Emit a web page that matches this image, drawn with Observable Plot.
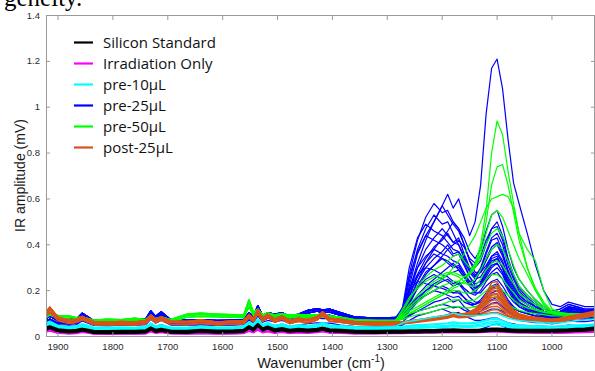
<!DOCTYPE html>
<html><head><meta charset="utf-8">
<script src="https://cdn.jsdelivr.net/npm/d3@7"></script>
<script src="https://cdn.jsdelivr.net/npm/@observablehq/plot@0.6"></script>
<style>
html,body{margin:0;padding:0;background:#fff;}
#chart{position:relative;width:595px;height:371px;overflow:hidden;}
</style></head><body><div id="chart"></div>
<script>
// ---------- data ----------
const wavenumbers = [1925,1915,1900,1880,1866,1856,1835,1810,1785,1760,1740,1731,1722,1712,1695,1665,1640,1610,1580,1562,1552,1544,1536,1527,1518,1505,1492,1478,1462,1445,1428,1418,1405,1385,1360,1320,1285,
  1272,1260,1245,1230,1215,1200,1190,1180,1170,1160,1150,1140,1130,1120,1110,1100,1090,1080,1070,1060,1045,1030,1015,1000,985,970,955,940,920];
const xTicks = [1900,1800,1700,1600,1500,1400,1300,1200,1100,1000];
const yTicks = [0,0.2,0.4,0.6,0.8,1,1.2,1.4];
const seriesNames = ["Silicon Standard","Irradiation Only","pre-10µL","pre-25µL","pre-50µL","post-25µL"];
const seriesColors = ["#000000","#ff00ff","#00ffff","#0000ff","#00ff00","#d95319"];

// pre-25µL (blue): low-wavenumber segments (1925–1285) and band segments (1272–920)
const blueLow = [
  [.080,.095,.075,.072,.075,.098,.068,.066,.070,.068,.075,.110,.085,.105,.072,.070,.072,.068,.070,.072,.100,.085,.130,.090,.100,.095,.100,.085,.095,.110,.118,.112,.115,.100,.082,.078,.080],
  [.072,.088,.068,.066,.068,.090,.062,.060,.064,.063,.068,.100,.078,.096,.066,.064,.066,.062,.064,.066,.092,.078,.120,.082,.092,.086,.092,.078,.088,.102,.110,.104,.106,.092,.076,.072,.075],
  [.062,.076,.058,.056,.058,.078,.054,.052,.055,.054,.058,.088,.066,.082,.056,.055,.057,.054,.056,.058,.080,.068,.105,.072,.080,.075,.080,.068,.076,.088,.095,.090,.092,.080,.068,.065,.068],
  [.085,.100,.078,.075,.078,.102,.070,.068,.072,.070,.078,.112,.088,.108,.074,.072,.074,.070,.072,.074,.104,.088,.135,.092,.104,.098,.104,.088,.098,.114,.122,.116,.120,.104,.086,.080,.083],
  [.058,.070,.052,.050,.052,.068,.048,.046,.049,.048,.052,.075,.058,.070,.050,.049,.051,.048,.050,.052,.072,.060,.090,.062,.070,.064,.070,.058,.066,.075,.080,.078,.078,.068,.058,.056,.060],
  [.045,.055,.040,.038,.040,.052,.036,.034,.036,.035,.038,.058,.044,.052,.037,.036,.038,.036,.037,.039,.056,.046,.070,.048,.054,.048,.054,.044,.050,.056,.060,.058,.058,.050,.044,.042,.045],
  [.020,.028,.015,.012,.014,.022,.011,.010,.011,.011,.012,.024,.015,.020,.012,.011,.013,.011,.012,.014,.026,.018,.034,.018,.024,.016,.022,.014,.018,.016,.020,.024,.016,.015,.012,.012,.018]
];
const bluePeak = [
  [.10,.22,.36,.44,.50,.57,.62,.56,.60,.52,.44,.50,.66,.97,1.17,1.21,1.08,.86,.67,.58,.45,.31,.20,.14,.13,.15,.14,.13,.13],
  [.09,.20,.32,.42,.50,.57,.53,.49,.46,.40,.33,.30,.33,.40,.47,.50,.44,.34,.27,.22,.18,.15,.12,.11,.12,.14,.13,.12,.12],
  [.11,.24,.38,.47,.53,.49,.50,.45,.40,.34,.29,.26,.30,.37,.43,.45,.40,.31,.25,.20,.16,.14,.11,.10,.11,.13,.12,.11,.115],
  [.08,.15,.24,.32,.38,.43,.46,.50,.47,.43,.37,.34,.38,.46,.53,.55,.48,.38,.30,.25,.20,.16,.13,.11,.12,.14,.13,.12,.12],
  [.10,.19,.30,.38,.43,.47,.44,.41,.43,.36,.30,.27,.28,.33,.38,.40,.35,.28,.22,.18,.15,.13,.11,.10,.11,.13,.12,.11,.11],
  [.12,.26,.37,.44,.42,.40,.38,.35,.36,.31,.26,.23,.24,.28,.32,.34,.30,.24,.19,.16,.14,.12,.10,.095,.10,.12,.115,.105,.11],
  [.09,.16,.24,.30,.34,.37,.40,.36,.37,.32,.26,.22,.22,.25,.28,.30,.27,.21,.17,.14,.12,.11,.095,.09,.095,.11,.105,.10,.10],
  [.10,.18,.26,.32,.36,.34,.33,.31,.30,.27,.24,.24,.29,.36,.42,.43,.37,.28,.22,.18,.15,.13,.11,.10,.105,.125,.12,.11,.115],
  [.085,.13,.18,.22,.25,.28,.30,.32,.29,.26,.22,.19,.19,.22,.24,.25,.22,.18,.15,.13,.11,.10,.09,.085,.09,.105,.10,.095,.10],
  [.09,.15,.21,.25,.27,.25,.24,.22,.23,.20,.17,.15,.15,.17,.19,.20,.18,.15,.12,.11,.10,.09,.085,.08,.085,.10,.095,.09,.095],
  [.08,.11,.15,.18,.20,.22,.21,.19,.20,.17,.14,.13,.13,.15,.16,.17,.15,.12,.10,.09,.085,.08,.075,.07,.075,.09,.085,.08,.085],
  [.065,.09,.11,.13,.15,.16,.17,.15,.16,.13,.11,.10,.10,.11,.12,.12,.11,.09,.08,.07,.065,.06,.06,.055,.06,.07,.065,.065,.07],
  [.05,.07,.09,.10,.11,.12,.11,.10,.105,.09,.08,.07,.07,.075,.08,.08,.07,.06,.055,.05,.048,.046,.045,.042,.045,.05,.048,.048,.05],
  [.022,.024,.026,.028,.03,.032,.032,.03,.03,.028,.027,.028,.032,.04,.05,.055,.045,.035,.03,.026,.024,.022,.02,.018,.018,.02,.02,.02,.022],
  [.12,.27,.42,.52,.58,.54,.55,.50,.47,.40,.33,.28,.28,.31,.35,.36,.32,.25,.20,.17,.14,.12,.105,.10,.105,.125,.12,.11,.115],
  [.085,.14,.21,.27,.31,.35,.38,.40,.42,.39,.34,.32,.35,.42,.47,.48,.42,.33,.26,.21,.17,.14,.12,.105,.11,.13,.125,.115,.12],
  [.11,.20,.27,.30,.29,.27,.26,.24,.23,.21,.19,.18,.20,.24,.27,.28,.25,.20,.16,.13,.115,.10,.09,.085,.09,.11,.105,.10,.10],
  [.09,.13,.17,.20,.22,.24,.25,.23,.24,.21,.19,.19,.23,.29,.34,.35,.30,.23,.18,.15,.12,.11,.095,.09,.095,.11,.105,.10,.105],
  [.085,.12,.16,.18,.20,.19,.18,.17,.175,.15,.14,.14,.16,.19,.22,.23,.20,.16,.13,.11,.10,.09,.085,.08,.085,.10,.095,.09,.095],
  [.075,.095,.11,.12,.13,.14,.135,.125,.13,.115,.105,.10,.11,.13,.145,.15,.13,.11,.095,.085,.08,.075,.07,.068,.07,.08,.078,.075,.08],
  [.13,.30,.43,.49,.46,.44,.41,.38,.37,.33,.28,.25,.26,.30,.35,.37,.33,.26,.21,.17,.14,.12,.10,.095,.10,.12,.115,.105,.11],
  [.09,.17,.27,.34,.39,.42,.45,.41,.40,.35,.29,.26,.28,.34,.39,.41,.36,.29,.23,.19,.16,.13,.11,.10,.105,.125,.12,.11,.115],
  [.11,.21,.30,.35,.38,.36,.35,.33,.32,.28,.24,.21,.22,.26,.30,.32,.28,.22,.18,.15,.13,.11,.10,.09,.095,.115,.11,.10,.105],
  [.09,.15,.22,.28,.31,.34,.32,.30,.31,.27,.23,.21,.23,.28,.33,.34,.30,.23,.18,.15,.12,.11,.095,.09,.095,.11,.105,.10,.10],
  [.12,.20,.24,.23,.22,.21,.20,.19,.19,.17,.15,.14,.15,.18,.21,.22,.19,.15,.13,.11,.10,.09,.085,.08,.085,.10,.095,.09,.095],
  [.08,.12,.16,.20,.23,.25,.27,.28,.29,.26,.22,.20,.22,.27,.31,.32,.28,.22,.17,.14,.12,.105,.095,.09,.095,.11,.105,.10,.10]
];
const blueLowOf = [0,1,2,3,0,1,2,3,0,1,2,4,5,6,3,0,1,2,3,0,1,2,0,3,1,2];

// pre-50µL (green)
const greenLow = [
  [.085,.100,.088,.085,.078,.082,.068,.072,.070,.076,.070,.090,.074,.082,.070,.092,.096,.092,.090,.088,.150,.100,.115,.090,.098,.090,.095,.088,.092,.088,.090,.092,.085,.080,.070,.066,.068],
  [.078,.094,.080,.076,.070,.076,.062,.066,.064,.070,.064,.084,.068,.076,.064,.084,.088,.085,.083,.082,.130,.092,.108,.083,.090,.083,.088,.081,.085,.081,.083,.086,.079,.074,.065,.062,.064],
  [.090,.106,.092,.090,.082,.086,.072,.076,.074,.080,.074,.094,.078,.086,.074,.098,.102,.098,.095,.093,.160,.106,.120,.095,.103,.095,.100,.093,.097,.093,.095,.097,.090,.085,.074,.070,.072]
];
const greenPeak = [
  [.09,.11,.13,.15,.17,.19,.20,.22,.24,.26,.28,.32,.40,.55,.80,.94,.88,.72,.58,.45,.30,.20,.14,.11,.10,.10,.10,.10,.10],
  [.08,.10,.12,.14,.16,.18,.19,.21,.22,.24,.27,.31,.38,.50,.66,.74,.75,.66,.54,.42,.30,.21,.15,.11,.10,.10,.10,.095,.10],
  [.10,.13,.16,.19,.22,.25,.27,.30,.33,.36,.40,.44,.50,.56,.60,.61,.62,.61,.56,.45,.38,.33,.20,.12,.105,.10,.10,.10,.10],
  [.10,.14,.18,.21,.24,.26,.27,.28,.27,.26,.27,.30,.36,.45,.53,.55,.52,.46,.40,.34,.27,.20,.14,.11,.10,.10,.10,.10,.10],
  [.11,.16,.22,.26,.29,.31,.33,.35,.36,.33,.30,.30,.34,.40,.45,.47,.44,.38,.31,.25,.20,.16,.13,.11,.10,.10,.10,.095,.10],
  [.09,.12,.15,.18,.20,.22,.23,.24,.24,.23,.23,.25,.29,.34,.38,.40,.38,.33,.27,.22,.18,.15,.12,.10,.10,.10,.095,.095,.095],
  [.12,.17,.21,.24,.26,.27,.28,.27,.26,.24,.22,.22,.25,.29,.32,.33,.31,.27,.23,.19,.16,.14,.12,.105,.10,.10,.10,.10,.10],
  [.08,.10,.12,.14,.16,.18,.19,.20,.20,.19,.19,.20,.22,.25,.27,.27,.25,.22,.19,.16,.14,.12,.11,.10,.095,.095,.095,.09,.095],
  [.085,.10,.11,.12,.13,.14,.15,.16,.16,.155,.155,.16,.18,.20,.22,.22,.20,.18,.16,.14,.125,.115,.105,.10,.095,.095,.09,.09,.09],
  [.075,.085,.095,.10,.11,.12,.125,.13,.13,.125,.125,.13,.14,.16,.17,.17,.16,.14,.125,.115,.105,.10,.095,.09,.09,.09,.09,.085,.09]
];
const greenLowOf = [0,1,2,0,1,2,0,1,2,0];

// post-25µL (orange)
const orangeLow = [
  [.090,.118,.078,.066,.070,.082,.060,.056,.060,.058,.064,.088,.068,.080,.062,.060,.066,.058,.062,.064,.090,.072,.110,.074,.092,.070,.084,.064,.074,.068,.080,.100,.074,.070,.060,.056,.058],
  [.098,.128,.084,.072,.076,.088,.066,.062,.066,.064,.070,.094,.074,.086,.068,.066,.072,.064,.068,.070,.096,.078,.118,.080,.098,.076,.090,.070,.080,.074,.086,.108,.080,.076,.066,.062,.064],
  [.080,.106,.070,.058,.062,.074,.052,.049,.052,.050,.056,.080,.060,.072,.054,.052,.058,.051,.054,.056,.082,.064,.100,.066,.084,.062,.076,.056,.066,.060,.072,.092,.066,.062,.053,.050,.052],
  [.094,.124,.082,.070,.073,.086,.063,.059,.063,.061,.067,.092,.071,.083,.065,.063,.069,.061,.065,.067,.093,.075,.114,.077,.095,.073,.087,.067,.077,.071,.083,.104,.077,.073,.063,.059,.061]
];
const orangePeak = [
  [.064,.068,.072,.078,.084,.090,.095,.105,.098,.100,.108,.120,.145,.185,.235,.240,.190,.145,.115,.100,.090,.084,.080,.076,.080,.088,.095,.102,.112],
  [.062,.066,.070,.076,.082,.088,.092,.100,.095,.097,.104,.115,.138,.172,.215,.222,.178,.138,.110,.096,.087,.081,.077,.074,.078,.085,.092,.098,.108],
  [.060,.064,.068,.074,.080,.085,.090,.098,.092,.094,.100,.110,.130,.160,.198,.202,.165,.130,.105,.092,.084,.078,.074,.071,.075,.082,.088,.095,.104],
  [.064,.068,.073,.079,.085,.090,.094,.104,.096,.098,.103,.112,.128,.155,.185,.188,.156,.126,.104,.094,.086,.080,.076,.073,.077,.084,.091,.098,.108],
  [.058,.062,.066,.071,.077,.082,.086,.094,.088,.090,.095,.104,.120,.144,.170,.174,.146,.118,.098,.087,.080,.074,.070,.068,.071,.078,.084,.090,.100],
  [.061,.065,.069,.075,.081,.086,.090,.100,.093,.094,.098,.106,.119,.138,.157,.160,.137,.114,.096,.088,.082,.077,.073,.070,.074,.081,.087,.094,.104],
  [.056,.060,.064,.069,.074,.079,.083,.090,.085,.086,.090,.097,.108,.125,.142,.145,.125,.105,.090,.082,.076,.071,.068,.066,.069,.075,.081,.087,.096],
  [.059,.063,.067,.072,.078,.083,.087,.097,.090,.091,.094,.100,.110,.120,.130,.132,.116,.100,.088,.081,.076,.072,.069,.067,.070,.077,.083,.090,.099],
  [.055,.058,.062,.066,.071,.076,.080,.087,.082,.083,.086,.091,.098,.107,.115,.117,.104,.092,.082,.076,.071,.067,.064,.062,.065,.071,.077,.083,.092],
  [.057,.061,.065,.070,.075,.080,.084,.093,.086,.086,.088,.092,.096,.100,.104,.105,.096,.087,.080,.075,.071,.068,.065,.064,.067,.073,.079,.085,.094],
  [.063,.067,.071,.077,.083,.089,.093,.102,.096,.098,.106,.118,.140,.175,.205,.212,.175,.136,.108,.095,.086,.080,.076,.073,.077,.084,.090,.097,.106],
  [.059,.063,.067,.073,.079,.084,.088,.096,.090,.092,.098,.108,.126,.152,.180,.183,.152,.123,.101,.090,.082,.076,.072,.069,.073,.080,.086,.093,.102]
];
const orangeLowOf = [1,0,3,1,2,0,3,2,0,2,1,3];

// pre-10µL (cyan)
const cyanLow = [
  [.050,.060,.042,.038,.040,.050,.036,.034,.036,.035,.038,.052,.040,.046,.036,.035,.040,.036,.037,.040,.058,.045,.070,.046,.055,.042,.050,.040,.045,.042,.046,.055,.044,.042,.038,.036,.038],
  [.056,.066,.047,.043,.045,.055,.041,.039,.041,.040,.043,.057,.045,.051,.041,.040,.045,.041,.042,.045,.064,.050,.076,.051,.060,.047,.055,.045,.050,.047,.051,.060,.049,.047,.043,.041,.043],
  [.044,.054,.037,.033,.035,.045,.031,.029,.031,.030,.033,.047,.035,.041,.031,.030,.035,.031,.032,.035,.052,.040,.064,.041,.050,.037,.045,.035,.040,.037,.041,.050,.039,.037,.033,.031,.033]
];
const cyanPeak = [
  [.042,.045,.048,.050,.052,.054,.056,.060,.057,.056,.056,.058,.062,.068,.075,.076,.066,.056,.050,.047,.045,.044,.043,.042,.043,.045,.047,.049,.052],
  [.060,.066,.072,.078,.085,.090,.094,.102,.095,.092,.090,.090,.092,.096,.100,.100,.090,.080,.074,.070,.066,.063,.060,.058,.060,.064,.068,.072,.078],
  [.038,.040,.042,.044,.046,.047,.048,.051,.049,.048,.048,.050,.054,.060,.066,.067,.058,.050,.045,.042,.040,.039,.038,.037,.038,.040,.042,.044,.047],
  [.035,.037,.039,.040,.042,.043,.044,.047,.045,.044,.044,.046,.049,.054,.059,.060,.053,.046,.041,.039,.037,.036,.035,.034,.035,.037,.039,.041,.044],
  [.045,.048,.051,.053,.055,.057,.059,.063,.060,.059,.059,.062,.066,.072,.078,.079,.069,.059,.053,.050,.048,.047,.046,.045,.046,.048,.050,.052,.055],
  [.033,.035,.036,.037,.038,.039,.040,.042,.041,.040,.040,.041,.043,.046,.050,.051,.046,.041,.038,.036,.035,.034,.033,.032,.033,.035,.037,.039,.042]
];
const cyanLowOf = [0,1,0,2,1,2];

// Irradiation Only (magenta)
const magentaLow = [
  [.018,.024,.014,.012,.013,.018,.011,.010,.011,.011,.012,.020,.014,.017,.012,.011,.013,.011,.012,.013,.022,.016,.028,.016,.020,.014,.018,.013,.016,.014,.017,.020,.015,.014,.012,.012,.013],
  [.022,.028,.018,.016,.017,.022,.015,.014,.015,.015,.016,.024,.018,.021,.016,.015,.017,.015,.016,.017,.026,.020,.032,.020,.024,.018,.022,.017,.020,.018,.021,.024,.019,.018,.016,.016,.017]
];
const magentaPeak = [
  [.013,.014,.014,.015,.015,.016,.016,.017,.016,.016,.016,.016,.017,.018,.019,.019,.018,.017,.016,.015,.015,.014,.014,.014,.014,.015,.016,.017,.019],
  [.016,.017,.017,.018,.018,.019,.019,.020,.019,.019,.019,.019,.020,.021,.022,.022,.021,.020,.019,.018,.018,.017,.017,.017,.017,.018,.019,.020,.022]
];
const magentaLowOf = [0,1];

// Silicon Standard (black)
const blackLow = [
  [.030,.040,.026,.022,.024,.030,.020,.019,.020,.020,.022,.034,.024,.028,.021,.020,.024,.021,.022,.024,.040,.030,.050,.030,.038,.026,.032,.024,.028,.025,.028,.034,.026,.024,.021,.020,.021],
  [.035,.045,.031,.027,.029,.035,.025,.024,.025,.025,.027,.039,.029,.033,.026,.025,.029,.026,.027,.029,.045,.035,.055,.035,.043,.031,.037,.029,.033,.030,.033,.039,.031,.029,.026,.025,.026],
  [.026,.036,.022,.018,.020,.026,.016,.015,.016,.016,.018,.030,.020,.024,.017,.016,.020,.017,.018,.020,.036,.026,.046,.026,.034,.022,.028,.020,.024,.021,.024,.030,.022,.020,.017,.016,.017]
];
const blackPeak = [
  [.021,.022,.022,.023,.023,.024,.024,.026,.025,.024,.024,.024,.025,.027,.029,.030,.028,.026,.025,.024,.024,.024,.024,.024,.025,.026,.028,.030,.034],
  [.026,.027,.027,.028,.028,.029,.029,.031,.030,.029,.029,.029,.030,.032,.034,.035,.033,.031,.030,.029,.029,.029,.029,.029,.030,.031,.033,.035,.039],
  [.017,.018,.018,.019,.019,.020,.020,.022,.021,.020,.020,.020,.021,.023,.025,.026,.024,.022,.021,.020,.020,.020,.020,.020,.021,.022,.024,.026,.030]
];
const blackLowOf = [0,1,2];

// ---------- build tidy rows ----------
function buildRows(name, lows, lowOf, peaks) {
  const rows = [];
  peaks.forEach((peak, j) => {
    const vals = lows[lowOf[j]].concat(peak);
    vals.forEach((v, i) => rows.push({w: wavenumbers[i], v, series: name, line: name + "-" + j}));
  });
  return rows;
}
const blackRows   = buildRows(seriesNames[0], blackLow, blackLowOf, blackPeak);
const magentaRows = buildRows(seriesNames[1], magentaLow, magentaLowOf, magentaPeak);
const cyanRows    = buildRows(seriesNames[2], cyanLow, cyanLowOf, cyanPeak);
const blueRows    = buildRows(seriesNames[3], blueLow, blueLowOf, bluePeak);
const greenRows   = buildRows(seriesNames[4], greenLow, greenLowOf, greenPeak);
const orangeRows  = buildRows(seriesNames[5], orangeLow, orangeLowOf, orangePeak);

const spec = (rows, sw) => Plot.line(rows, {x: "w", y: "v", z: "line", stroke: "series", strokeWidth: sw, clip: true});
const axisGrey = "#9a9a9a";
const fmt = d => String(d);

const chart = Plot.plot({
  width: 595, height: 371,
  marginLeft: 46, marginRight: 1, marginTop: 15, marginBottom: 35,
  style: {fontFamily: "'Liberation Sans', Arial, sans-serif", background: "#fff", overflow: "visible"},
  x: {domain: [1921, 922.5], label: null},
  y: {domain: [0, 1.4], label: null},
  color: {domain: seriesNames, range: seriesColors},
  marks: [
    spec(blueRows, 1.2),
    spec(greenRows, 1.2),
    spec(orangeRows, 1.4),
    spec(cyanRows, 1.4),
    spec(magentaRows, 1.4),
    spec(blackRows, 2.2),
    Plot.frame({stroke: axisGrey}),
    Plot.axisX(xTicks, {anchor: "bottom", tickSize: -4, stroke: axisGrey, tickFormat: () => "", label: null}),
    Plot.axisX(xTicks, {anchor: "top", tickSize: -4, stroke: axisGrey, tickFormat: () => "", label: null}),
    Plot.axisY(yTicks, {anchor: "left", tickSize: -4, stroke: axisGrey, tickFormat: () => "", label: null}),
    Plot.axisY(yTicks, {anchor: "right", tickSize: -4, stroke: axisGrey, tickFormat: () => "", label: null}),
    Plot.axisX(xTicks, {anchor: "bottom", tickSize: 0, tickPadding: 7, fontSize: 9.5, fill: "#2a2a2a", tickFormat: fmt, label: null}),
    Plot.axisY(yTicks, {anchor: "left", tickSize: 0, tickPadding: 6.5, fontSize: 9.5, fill: "#2a2a2a", tickFormat: fmt, label: null})
  ]
});
document.getElementById("chart").appendChild(chart);

// ---------- texts: labels, legend, clipped heading ----------
const svg = d3.select(chart);
svg.append("text")
  .attr("x", 4).attr("y", 6)
  .attr("text-anchor", "start")
  .attr("font-family", "'Liberation Serif', 'Times New Roman', serif")
  .attr("font-size", 25).attr("fill", "#000")
  .text("geneity.");

svg.append("text")
  .attr("transform", "translate(24.5,175.5) rotate(-90)")
  .attr("text-anchor", "middle")
  .attr("font-family", "'Liberation Sans', Arial, sans-serif")
  .attr("font-size", 14).attr("fill", "#1a1a1a")
  .text("IR amplitude (mV)");

const xl = svg.append("text")
  .attr("x", 321).attr("y", 368)
  .attr("text-anchor", "middle")
  .attr("font-family", "'Liberation Sans', Arial, sans-serif")
  .attr("font-size", 14.5).attr("fill", "#1a1a1a");
xl.append("tspan").text("Wavenumber (cm");
xl.append("tspan").attr("dy", -6).attr("font-size", 10).text("-1");
xl.append("tspan").attr("dy", 6).text(")");

const lg = svg.append("g")
  .attr("text-anchor", "start")
  .attr("font-family", "'Open Sans', 'Noto Sans', sans-serif")
  .attr("font-size", 15);
seriesNames.forEach((name, i) => {
  const y = 42.5 + i * 21;
  lg.append("line").attr("x1", 74).attr("x2", 93).attr("y1", y).attr("y2", y)
    .attr("stroke", seriesColors[i]).attr("stroke-width", 2.2);
  lg.append("text").attr("x", 103).attr("y", y + 5.5).attr("fill", "#111").text(name);
});
</script>
</body></html>
